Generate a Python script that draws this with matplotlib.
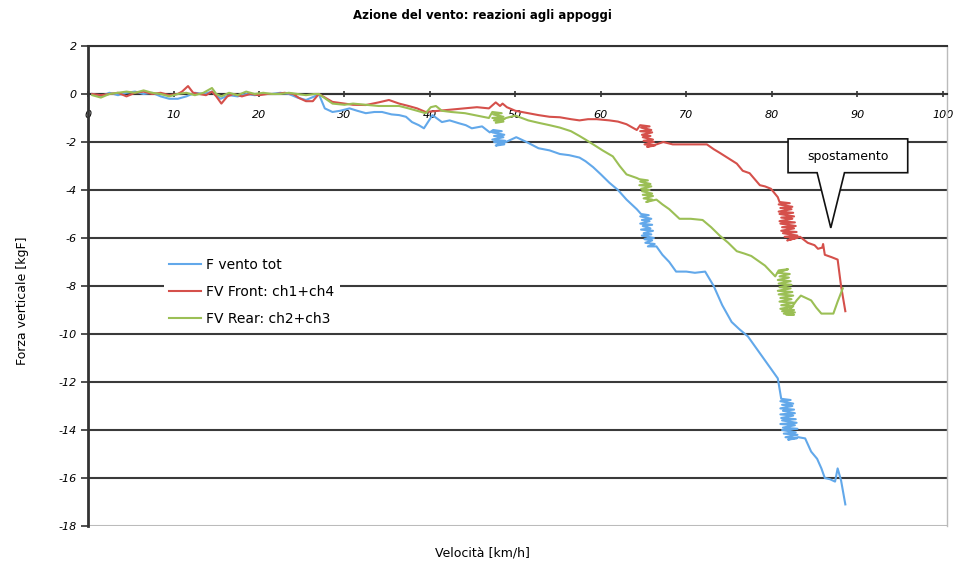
import matplotlib.pyplot as plt
from matplotlib.patches import Polygon

# velocità [km/h] e forza verticale [kgF]
vel_tot = [0.5, 1.5, 2.5, 3.5, 4.5, 5.5, 6.5, 7.5, 8.5, 9.5, 10.5, 11.5, 12.5, 13.5,
           14.5, 15.5, 16.5, 17.5, 18.5, 19.5, 20.5, 21.5, 22.5, 23.5, 24.5, 25.5,
           26.5, 27.0, 27.7, 28.6, 29.5, 30.6, 31.5, 32.5, 33.5, 34.4, 35.5, 36.4,
           37.2, 37.9, 38.7, 39.3, 40.3, 41.4, 42.3, 43.4, 44.2, 44.9, 46.1, 47.0,
           47.4, 48.4, 47.3, 48.7, 47.5, 48.6, 47.3, 48.8, 47.5, 48.7, 47.7, 48.9,
           50.1, 51.3, 52.7, 54.0, 55.2, 56.3, 57.5, 58.2, 59.1, 60.0, 61.0, 62.0,
           63.0, 64.2,
           64.7, 65.6, 64.6, 65.9, 64.8, 65.7, 64.6, 66.0, 64.9, 65.8, 64.7, 66.1,
           65.0, 65.9, 64.8, 66.2, 65.1, 66.0, 65.2, 66.3, 65.5, 66.5,
           67.2, 68.0, 68.8, 70.0, 71.0, 72.2, 73.2, 74.2, 75.3, 76.2, 77.2, 78.0,
           78.8, 79.8, 80.7,
           81.1, 82.2, 81.0, 82.5, 81.2, 82.4, 81.0, 82.6, 81.3, 82.7,
           81.0, 82.5, 81.1, 82.8, 81.2, 82.9, 81.0, 82.7, 81.3, 83.0,
           81.2, 82.8, 81.4, 83.0, 81.6, 82.9, 81.9, 83.1,
           83.9, 84.6, 85.3, 85.8, 86.2, 86.8, 87.4, 87.7, 88.1, 88.6]
f_tot = [0.0, -0.1, 0.05, -0.05, 0.05, 0.1, 0.0, 0.05, -0.1, -0.2, -0.2, -0.1, 0.05, 0.0,
         0.1, -0.2, -0.05, -0.1, 0.0, -0.05, 0.0, 0.0, 0.05, 0.0, -0.15, -0.25,
         -0.1, 0.0, -0.6, -0.75, -0.7, -0.6, -0.7, -0.8, -0.75, -0.75, -0.85, -0.88,
         -0.95, -1.17, -1.3, -1.43, -0.88, -1.17, -1.1, -1.22, -1.3, -1.43, -1.35, -1.6,
         -1.5, -1.55, -1.6, -1.7, -1.75, -1.8, -1.9, -1.95, -2.0, -2.1, -2.15, -2.0,
         -1.8, -2.0, -2.26, -2.35, -2.5, -2.55, -2.65, -2.8, -3.05, -3.35, -3.7, -4.0,
         -4.4, -4.8,
         -5.0, -5.05, -5.1, -5.2, -5.25, -5.3, -5.4, -5.45, -5.5, -5.6, -5.65, -5.7,
         -5.8, -5.85, -5.9, -6.0, -6.05, -6.1, -6.2, -6.25, -6.35, -6.35,
         -6.7, -7.0, -7.4, -7.4, -7.45, -7.4, -8.0, -8.8, -9.5, -9.8, -10.1, -10.5,
         -10.9, -11.4, -11.85,
         -12.7, -12.75, -12.8, -12.9, -12.95, -13.0, -13.1, -13.15, -13.2, -13.3,
         -13.35, -13.4, -13.5, -13.55, -13.6, -13.7, -13.75, -13.8, -13.9, -13.95,
         -14.0, -14.1, -14.15, -14.2, -14.3, -14.35, -14.4, -14.3,
         -14.35, -14.9, -15.2, -15.6, -16.0, -16.05, -16.15, -15.6, -16.1, -17.1]

vel_front = [0.5, 1.5, 2.5, 3.5, 4.5, 5.5, 6.5, 7.5, 8.5, 9.5, 10.5, 11.0, 11.7, 12.3,
             13.0, 13.8, 14.5, 15.0, 15.6, 16.3, 17.0, 18.0, 19.0, 20.0, 21.0, 22.0,
             23.0, 24.0, 24.7, 25.5, 26.3, 27.0, 28.6, 30.0, 31.0, 32.5, 34.0, 35.2,
             36.4, 37.5, 38.5, 39.5, 41.0, 42.5, 44.1, 45.5, 46.9, 47.7, 48.2, 48.5,
             49.0, 50.0, 51.5, 52.7, 54.0, 55.2, 56.5, 57.5, 58.5, 59.5, 61.0, 62.0,
             63.0, 64.2,
             64.6, 65.7, 64.7, 65.9, 64.6, 66.0, 64.8, 65.8, 64.9, 66.1, 65.0, 66.2,
             65.1, 66.3, 65.4, 66.5,
             67.3, 68.4, 70.0, 71.5, 72.4, 73.2, 73.9, 75.0, 75.9, 76.6, 77.4, 78.0,
             78.6, 79.2, 79.9, 80.7,
             80.9, 82.1, 80.8, 82.4, 81.0, 82.3, 80.8, 82.5, 80.9, 82.6,
             81.1, 82.4, 80.9, 82.7, 81.0, 82.8, 81.2, 82.6, 81.1, 82.9,
             81.3, 83.0, 81.5, 82.9, 81.8, 83.3,
             84.2, 85.0, 85.4, 85.9, 86.0, 86.2, 87.0, 87.7, 88.1, 88.6]
f_front = [0.0, -0.05, 0.0, 0.05, -0.1, 0.05, 0.1, 0.0, 0.05, -0.05, 0.0, 0.1, 0.33, 0.05,
           0.0, -0.05, 0.1, -0.1, -0.4, -0.1, 0.0, -0.1, 0.0, -0.05, 0.0, 0.0,
           0.05, 0.0, -0.17, -0.3, -0.3, 0.0, -0.33, -0.4, -0.45, -0.46, -0.35, -0.25,
           -0.4, -0.5, -0.6, -0.75, -0.7, -0.65, -0.6, -0.55, -0.6, -0.35, -0.5, -0.4,
           -0.55, -0.7, -0.8, -0.88, -0.95, -0.97, -1.05, -1.1, -1.05, -1.05, -1.1, -1.15,
           -1.26, -1.5,
           -1.3, -1.35, -1.4, -1.5, -1.55, -1.6, -1.7, -1.75, -1.8, -1.9, -1.95, -2.0,
           -2.1, -2.15, -2.2, -2.1,
           -2.0, -2.1, -2.1, -2.1, -2.1, -2.3, -2.45, -2.7, -2.9, -3.2, -3.3, -3.55,
           -3.8, -3.85, -3.95, -4.3,
           -4.5, -4.55, -4.6, -4.7, -4.75, -4.8, -4.9, -4.95, -5.0, -5.1,
           -5.15, -5.2, -5.3, -5.35, -5.4, -5.5, -5.55, -5.6, -5.7, -5.75,
           -5.8, -5.9, -5.95, -6.0, -6.1, -5.95,
           -6.2, -6.3, -6.45, -6.4, -6.25, -6.7, -6.8, -6.9, -8.0, -9.05]

vel_rear = [0.5, 1.5, 2.5, 3.5, 4.5, 5.5, 6.5, 7.5, 8.5, 9.5, 10.5, 11.5, 12.5, 13.5,
            14.5, 15.0, 15.6, 16.5, 17.5, 18.5, 19.5, 20.5, 21.5, 22.5, 23.5, 24.5,
            25.5, 26.5, 27.0, 28.6, 30.0, 31.0, 32.5, 34.0, 35.5, 36.4, 37.5, 38.5,
            39.5, 40.1, 40.7, 41.4, 42.5, 44.1, 45.5, 46.9,
            47.3, 48.4, 47.4, 48.6, 47.3, 48.7, 47.5, 48.6, 47.7, 48.9,
            50.0, 51.5, 52.7, 54.0, 55.2, 56.5, 57.5, 58.2,
            59.1, 60.2, 61.4, 62.2, 63.0, 64.2,
            64.5, 65.5, 64.6, 65.8, 64.5, 65.9, 64.7, 65.7, 64.8, 66.0, 64.9, 66.1,
            65.0, 66.0, 65.3, 66.5,
            67.2, 68.0, 69.2, 70.5, 71.9, 72.9, 73.9, 74.9,
            75.9, 76.8, 77.6, 78.6, 79.2, 80.4,
            80.8, 81.9, 80.7, 82.1, 80.9, 82.0, 80.7, 82.2, 80.8, 82.3,
            80.9, 82.2, 80.7, 82.4, 80.8, 82.5, 81.0, 82.3, 80.9, 82.6,
            81.1, 82.5, 81.0, 82.6, 81.2, 82.7, 81.4, 82.6, 81.7, 82.9,
            83.4, 84.6, 85.2, 85.8, 86.5, 87.2, 87.7, 88.3]
f_rear = [-0.05, -0.15, 0.0, 0.05, 0.1, 0.05, 0.15, 0.05, 0.0, -0.1, 0.0, 0.05, -0.05, 0.05,
          0.25, 0.0, -0.1, 0.05, -0.05, 0.1, 0.0, 0.05, 0.0, 0.0, 0.05, 0.0,
          -0.05, 0.0, 0.0, -0.4, -0.45, -0.4, -0.45, -0.5, -0.5, -0.5, -0.6, -0.7,
          -0.8, -0.55, -0.5, -0.7, -0.75, -0.8, -0.9, -1.0,
          -0.75, -0.8, -0.85, -0.95, -1.0, -1.05, -1.1, -1.15, -1.2, -1.0,
          -0.9, -1.1, -1.2, -1.3, -1.4, -1.55, -1.75, -1.9,
          -2.1, -2.35, -2.6, -3.0, -3.35, -3.5,
          -3.55, -3.6, -3.65, -3.75, -3.8, -3.85, -3.95, -4.0, -4.05, -4.15, -4.2, -4.25,
          -4.35, -4.4, -4.5, -4.4,
          -4.6, -4.8, -5.2, -5.2, -5.25, -5.55, -5.9, -6.2,
          -6.55, -6.65, -6.75, -7.0, -7.15, -7.6,
          -7.35, -7.3, -7.45, -7.5, -7.6, -7.65, -7.75, -7.8, -7.9, -7.95,
          -8.05, -8.1, -8.2, -8.25, -8.35, -8.4, -8.5, -8.55, -8.65, -8.7,
          -8.8, -8.85, -8.95, -9.0, -9.05, -9.1, -9.15, -9.2, -9.2, -8.6,
          -8.4, -8.6, -8.9, -9.15, -9.15, -9.15, -8.65, -8.1]

x_ticks = list(range(0, 101, 10))
y_ticks = list(range(-18, 3, 2))

fig = plt.figure(figsize=(9.6, 5.67), dpi=100)
ax = fig.add_axes([0.0917, 0.0723, 0.8948, 0.8466])

ax.plot(vel_tot, f_tot, color='#62a8ea', lw=1.5, label='F vento tot', zorder=3)
ax.plot(vel_front, f_front, color='#d5504b', lw=1.5, label='FV Front: ch1+ch4', zorder=3)
ax.plot(vel_rear, f_rear, color='#9bbf55', lw=1.5, label='FV Rear: ch2+ch3', zorder=3)

ax.spines['bottom'].set_position(('data', 0))
ax.spines['bottom'].set_color('#333333')
ax.spines['bottom'].set_linewidth(1.5)
ax.spines['left'].set_color('#333333')
ax.spines['left'].set_linewidth(2)
ax.spines['top'].set_color('#333333')
ax.spines['top'].set_linewidth(1.5)
ax.spines['right'].set_color('#bbbbbb')
ax.spines['right'].set_linewidth(1)

ax.set_xlim(0, 100.5)
ax.set_ylim(-18, 2)
ax.set_xticks(x_ticks)
ax.set_xticklabels([str(v) for v in x_ticks], fontstyle='italic', fontsize=8)
ax.set_yticks(y_ticks)
ax.set_yticklabels([str(v) for v in y_ticks], fontstyle='italic', fontsize=8)
ax.tick_params(axis='x', direction='inout', length=5, width=1.2, color='#333333', pad=9)
ax.tick_params(axis='y', direction='out', length=5, width=1.2, color='#333333', pad=3)

ax.yaxis.grid(True, color='#3a3a3a', lw=1.5, zorder=1)
ax.set_axisbelow(True)
ax.get_ygridlines()[0].set_color('#bbbbbb')

ax.legend(loc='upper left', bbox_to_anchor=(0.080, 0.585), frameon=True,
          edgecolor='none', facecolor='white', framealpha=1, fancybox=False,
          fontsize=10, handlelength=2.3, labelspacing=0.95, borderpad=0.4,
          handletextpad=0.36)

# fumetto "spostamento"
fumetto = Polygon([(81.9, -1.87), (95.9, -1.87), (95.9, -3.28), (88.5, -3.28),
                   (86.9, -5.58), (85.3, -3.28), (81.9, -3.28)],
                  closed=True, facecolor='white', edgecolor='#111111', lw=1.2, zorder=5)
ax.add_patch(fumetto)
ax.text(88.9, -2.6, 'spostamento', ha='center', va='center', fontsize=9, zorder=6)

fig.text(0.503, 0.972, 'Azione del vento: reazioni agli appoggi', ha='center',
         va='center', fontsize=8.5, fontweight='bold')
fig.text(0.503, 0.025, 'Velocità [km/h]', ha='center', va='center', fontsize=9)
fig.text(0.023, 0.47, 'Forza verticale [kgF]', rotation=90, ha='center',
         va='center', fontsize=9)

plt.savefig('out.png', dpi=100)
